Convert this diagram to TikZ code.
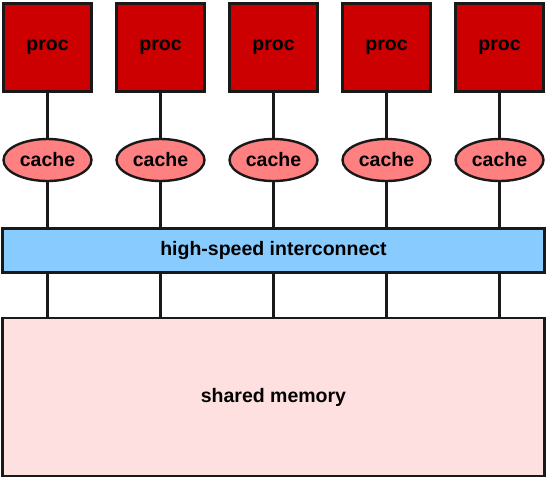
\documentclass[tikz,border=0pt]{standalone}
\usepackage{fontspec}
\setmainfont{Liberation Sans}
\usetikzlibrary{shapes.geometric}

\definecolor{procred}{HTML}{CC0000}
\definecolor{cachepink}{HTML}{FF8080}
\definecolor{netblue}{HTML}{88CCFF}
\definecolor{mempink}{HTML}{FFE0E0}

\begin{document}
\begin{tikzpicture}[x=1pt,y=-1pt,
    every node/.style={font=\fontsize{19.5}{22}\selectfont\bfseries, line width=2.4pt, draw=black!90},
    procbox/.style={fill=procred, minimum width=88pt, minimum height=88pt},
    cachebox/.style={ellipse, fill=cachepink, minimum width=88pt, minimum height=42pt, inner sep=0pt},
    wire/.style={line width=2.6pt, draw=black!90}]
        \useasboundingbox (0,0) rectangle (548,480);

        % Interconnect and memory
        \node[fill=netblue, minimum width=542pt, minimum height=44pt] (net) at (273.5,250.5) {high-speed interconnect};
        \node[fill=mempink, minimum width=542pt, minimum height=158pt] (mem) at (273.5,397) {shared memory};

        % Processors with their caches
        \foreach \i/\x in {1/47.5,2/160.5,3/273.5,4/386.5,5/499.5} {
            \node[procbox] (proc\i) at (\x,47.5) {proc};
            \node[cachebox] (cache\i) at (\x,160) {cache};
            \draw[wire] (proc\i) -- (cache\i);
            \draw[wire] (cache\i) -- (cache\i |- net.north);
            \draw[wire] (cache\i |- net.south) -- (cache\i |- mem.north);
        }
    \end{tikzpicture}
\end{document}
